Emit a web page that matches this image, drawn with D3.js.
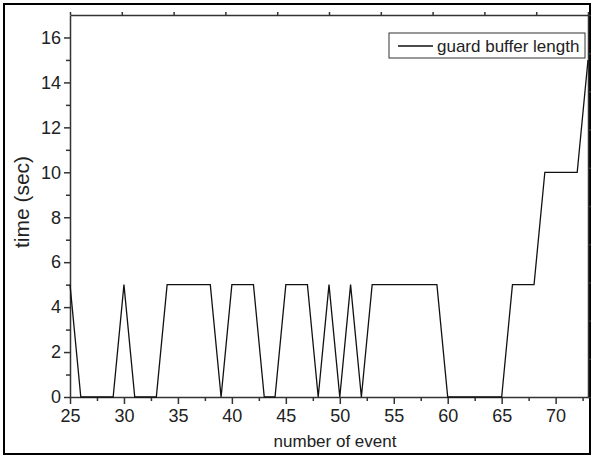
<!DOCTYPE html>
<html>
<head>
<meta charset="utf-8">
<script src="https://cdn.jsdelivr.net/npm/d3@7"></script>
<style>
  body { margin: 0; background: #fff; }
  svg text { font-family: "Liberation Sans", Arial, sans-serif; fill: #222; }
</style>
</head>
<body>
<div id="chart"></div>
<script>
// number of event (x) and guard buffer length in seconds (y)
const events = d3.range(25, 74);
const guardTimes = [
  5, 0, 0, 0, 0, 5, 0, 0, 0, 5,
  5, 5, 5, 5, 0, 5, 5, 5, 0, 0,
  5, 5, 5, 0, 5, 0, 5, 0, 5, 5,
  5, 5, 5, 5, 5, 0, 0, 0, 0, 0,
  0, 5, 5, 5, 10, 10, 10, 10, 15
];
const xTicks = [25, 30, 35, 40, 45, 50, 55, 60, 65, 70];
const yTicks = [0, 2, 4, 6, 8, 10, 12, 14, 16];
const seriesName = "guard buffer length";

const width = 593, height = 458;
const margin = { top: 15, right: 5, bottom: 61, left: 70 };
const plotW = width - margin.left - margin.right;
const plotH = height - margin.top - margin.bottom;

const svg = d3.select("#chart").append("svg")
  .attr("width", width)
  .attr("height", height);

// outer frame
svg.append("rect")
  .attr("x", 4).attr("y", 4)
  .attr("width", 586).attr("height", 450)
  .attr("fill", "none")
  .attr("stroke", "#000")
  .attr("stroke-width", 2);

const g = svg.append("g")
  .attr("transform", `translate(${margin.left},${margin.top})`);

const x = d3.scaleLinear().domain([25, 73]).range([0, plotW]);
const y = d3.scaleLinear().domain([0, 17]).range([plotH, 0]);

const axisColor = "#333";

// bottom axis: major + minor ticks
g.append("g")
  .attr("transform", `translate(0,${plotH})`)
  .call(d3.axisBottom(x).tickValues(d3.range(27.5, 73, 5)).tickSize(4).tickFormat(""))
  .call(a => a.select(".domain").remove());
g.append("g")
  .attr("transform", `translate(0,${plotH})`)
  .call(d3.axisBottom(x).tickValues(xTicks).tickSize(7).tickPadding(5).tickSizeOuter(0))
  .call(a => a.selectAll("text").style("font-size", "18px"));

// left axis
g.append("g")
  .call(d3.axisLeft(y).tickValues(d3.range(1, 17, 2)).tickSize(4).tickFormat(""))
  .call(a => a.select(".domain").remove());
g.append("g")
  .call(d3.axisLeft(y).tickValues(yTicks).tickSize(6).tickPadding(3).tickSizeOuter(0))
  .call(a => a.selectAll("text").style("font-size", "18px"));

// top and right axes: ten equal divisions
const topScale = d3.scaleLinear().domain([0, 10]).range([0, plotW]);
const rightScale = d3.scaleLinear().domain([0, 10]).range([plotH, 0]);
g.append("g")
  .call(d3.axisTop(topScale).ticks(10).tickSize(3).tickSizeOuter(0).tickFormat(""));
g.append("g")
  .attr("transform", `translate(${plotW},0)`)
  .call(d3.axisRight(rightScale).ticks(10).tickSize(3).tickSizeOuter(0).tickFormat(""));

g.selectAll(".domain, .tick line")
  .attr("stroke", axisColor)
  .attr("stroke-width", 1.5);

// series line
const line = d3.line()
  .x((d, i) => x(events[i]))
  .y(d => y(d));

g.append("path")
  .datum(guardTimes)
  .attr("fill", "none")
  .attr("stroke", "#111")
  .attr("stroke-width", 1.3)
  .attr("d", line);

// axis titles
svg.append("text")
  .attr("x", 335)
  .attr("y", 447)
  .attr("text-anchor", "middle")
  .style("font-size", "17px")
  .text("number of event");

svg.append("text")
  .attr("transform", `translate(29,202) rotate(-90)`)
  .attr("text-anchor", "middle")
  .style("font-size", "21px")
  .text("time (sec)");

// legend
const legend = svg.append("g").attr("transform", "translate(389,33)");
legend.append("rect")
  .attr("width", 196).attr("height", 25)
  .attr("fill", "#fff")
  .attr("stroke", axisColor)
  .attr("stroke-width", 1);
legend.append("line")
  .attr("x1", 9).attr("x2", 44)
  .attr("y1", 13).attr("y2", 13)
  .attr("stroke", "#111")
  .attr("stroke-width", 1.3);
legend.append("text")
  .attr("x", 48).attr("y", 18.5)
  .style("font-size", "17px")
  .text(seriesName);
</script>
</body>
</html>
